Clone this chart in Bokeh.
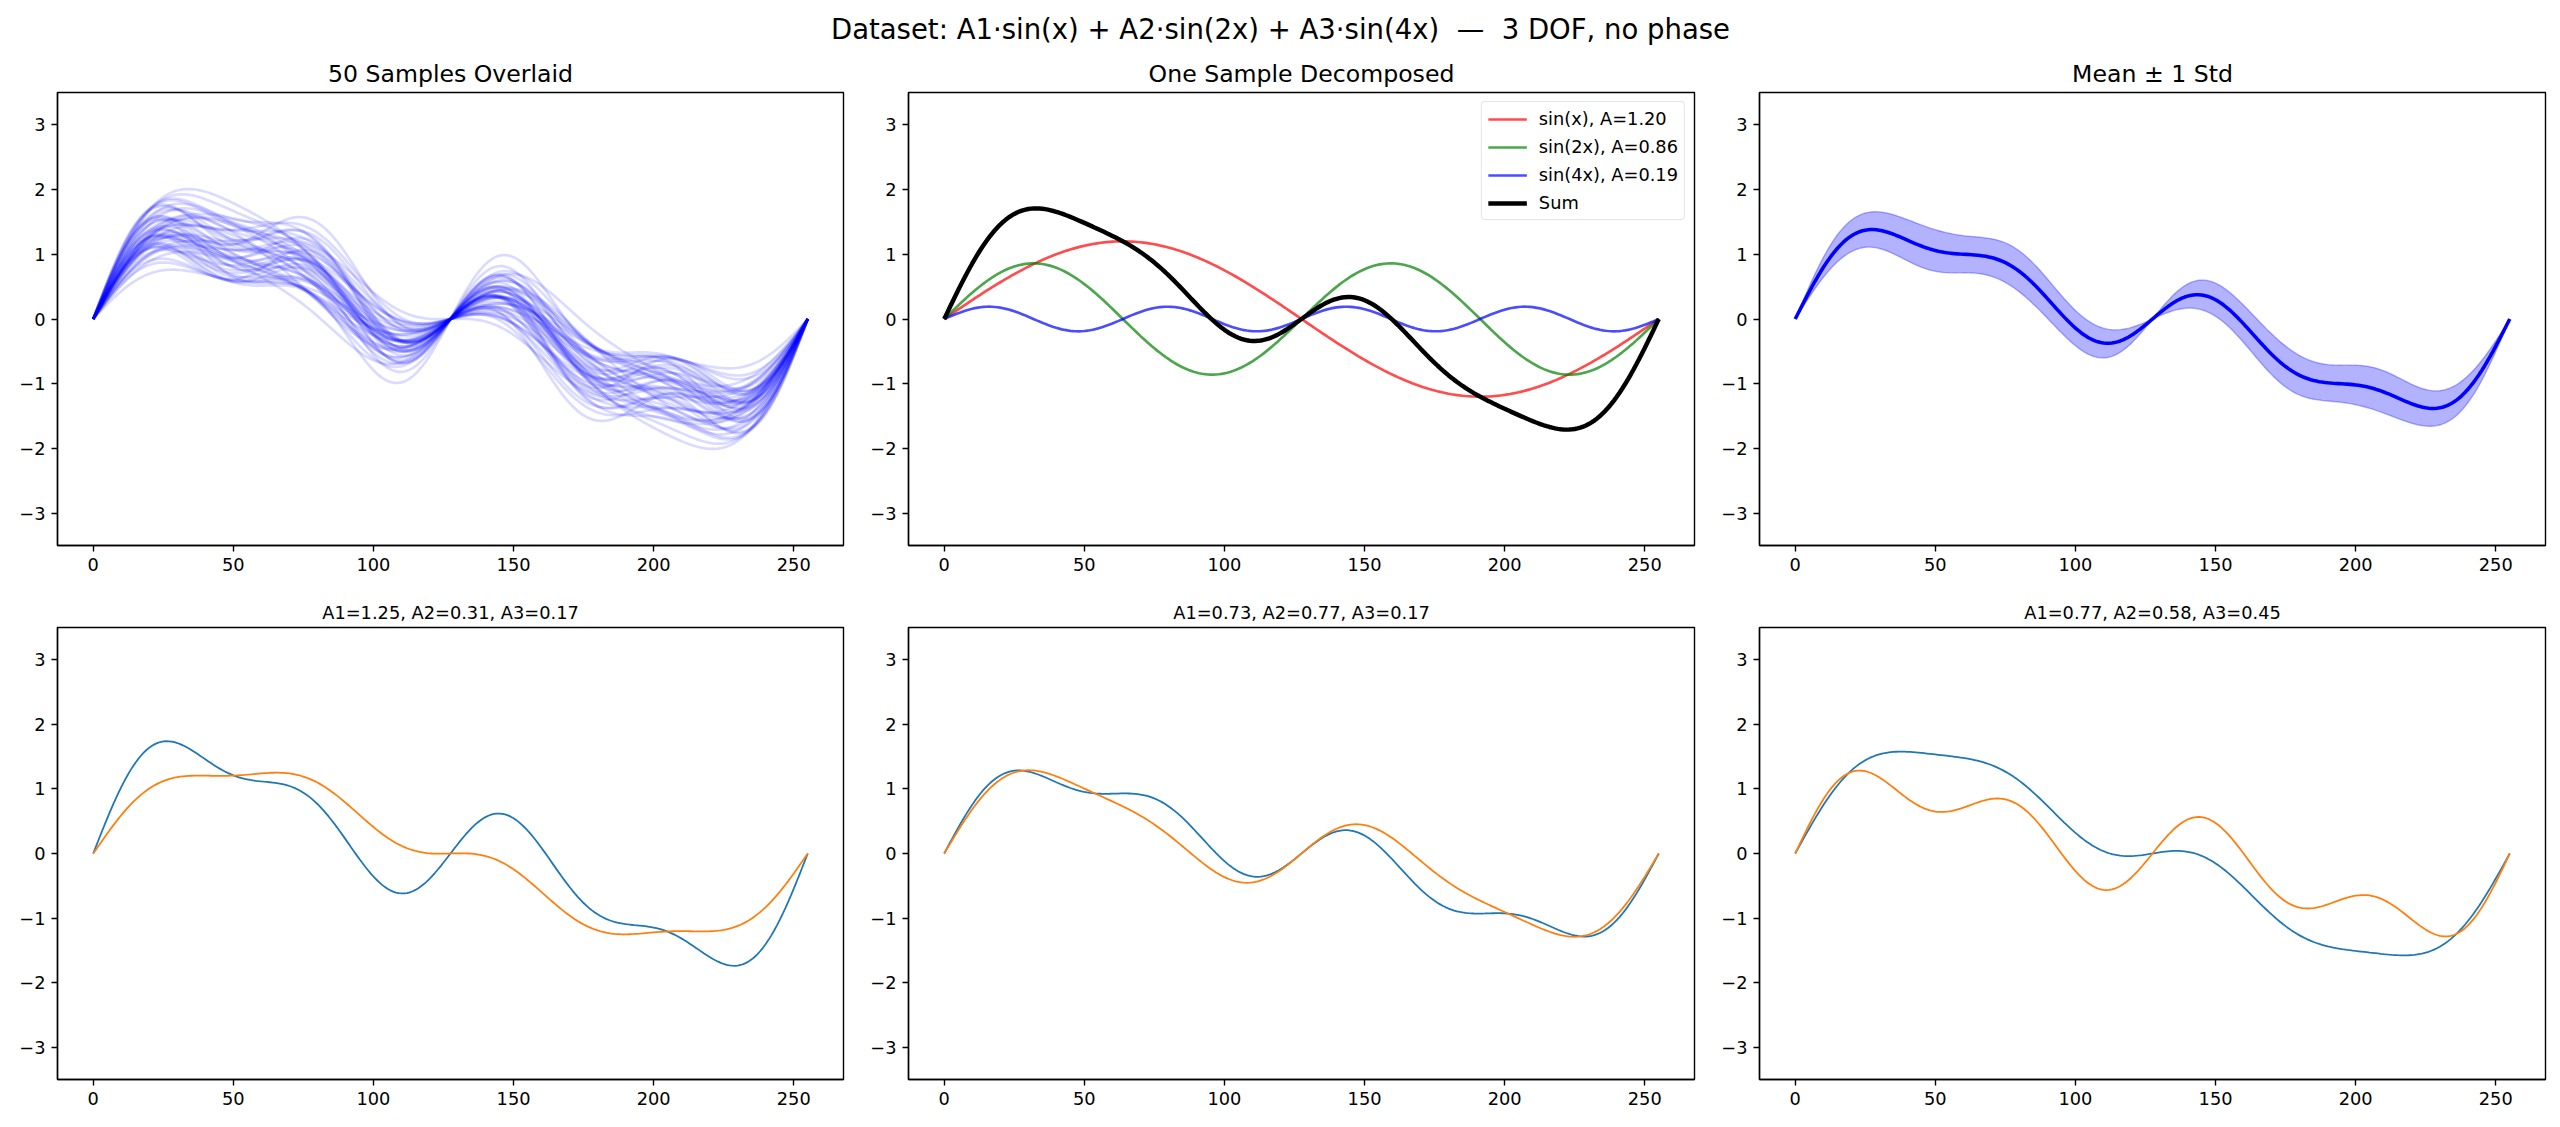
import numpy as np
from bokeh.plotting import figure
from bokeh.layouts import column, row
from bokeh.models import Range1d, FixedTicker, Label, Legend, LegendItem
from bokeh.embed import file_html
from bokeh.resources import INLINE

# ---------------------------------------------------------------- data
N_POINTS = 256
HARMONICS = [1, 2, 4]

X_TICKS = [0, 50, 100, 150, 200, 250]
Y_TICKS = [-3, -2, -1, 0, 1, 2, 3]
Y_TICK_LABELS = ["\u22123", "\u22122", "\u22121", "0", "1", "2", "3"]

# amplitudes of the 50 drawn samples (A1, A2, A3)
A1_SAMPLES = [1.20, 1.25, 0.73, 0.77, 0.52, 1.47, 0.91, 1.08, 0.63, 1.33,
              0.86, 1.12, 0.56, 1.39, 0.97, 1.04, 0.69, 1.29, 0.81, 1.43,
              0.55, 1.16, 0.94, 1.01, 0.66, 1.36, 0.88, 1.22, 0.75, 1.49,
              0.60, 1.10, 0.83, 1.31, 0.99, 0.71, 1.18, 0.57, 1.41, 0.90,
              1.06, 0.79, 1.27, 0.64, 1.14, 0.95, 1.46, 0.85, 1.02, 0.68]
A2_SAMPLES = [0.86, 0.31, 0.77, 0.58, 0.64, 0.42, 0.95, 0.53, 0.38, 0.71,
              0.47, 0.99, 0.96, 0.61, 0.34, 0.74, 0.55, 0.90, 0.66, 0.36,
              0.92, 0.45, 0.80, 0.59, 0.70, 0.50, 0.33, 0.68, 0.97, 0.79,
              0.44, 0.88, 0.62, 0.40, 0.73, 0.51, 0.84, 0.35, 0.93, 0.57,
              0.39, 0.86, 0.65, 0.76, 0.48, 1.00, 0.97, 0.43, 0.81, 0.63]
A3_SAMPLES = [0.19, 0.17, 0.17, 0.45, 0.33, 0.28, 0.12, 0.41, 0.24, 0.49,
              0.36, 0.22, 0.49, 0.14, 0.30, 0.38, 0.11, 0.35, 0.26, 0.43,
              0.20, 0.32, 0.46, 0.16, 0.39, 0.23, 0.44, 0.13, 0.31, 0.37,
              0.27, 0.48, 0.21, 0.34, 0.10, 0.42, 0.29, 0.15, 0.25, 0.40,
              0.18, 0.50, 0.12, 0.28, 0.45, 0.33, 0.20, 0.37, 0.24, 0.14]

# sample shown split into its components
DECOMP_AMPS = [1.20, 0.86, 0.19]
DECOMP_NAMES = ["sin(x)", "sin(2x)", "sin(4x)"]
DECOMP_COLORS = ["red", "green", "blue"]

# bottom row: target amplitudes (orange, in the titles) and model output (blue)
TARGET_AMPS = [[1.25, 0.31, 0.17], [0.73, 0.77, 0.17], [0.77, 0.58, 0.45]]
OUTPUT_AMPS = [[1.10, 0.90, 0.40], [0.93, 0.59, 0.30], [1.45, 0.53, 0.17]]

SUPTITLE = "Dataset: A1\u00b7sin(x) + A2\u00b7sin(2x) + A3\u00b7sin(4x) \u00a0\u2014\u00a0 3 DOF, no phase"
TOP_TITLES = ["50 Samples Overlaid", "One Sample Decomposed", "Mean \u00b1 1 Std"]

# ---------------------------------------------------------------- helpers
x = np.arange(N_POINTS)
t = np.linspace(0.0, 2.0 * np.pi, N_POINTS)


def component(amp, k):
    return amp * np.sin(k * t)


def signal(amps):
    return sum(component(a, k) for a, k in zip(amps, HARMONICS))


FONT = "DejaVu Sans"
FRAME_W = 786
LINE_PX = 1.78  # one point at 128 dpi


def make_panel(title, title_size, frame_h, top, bottom):
    p = figure(frame_width=FRAME_W, frame_height=frame_h,
               min_border_left=57, min_border_right=8,
               min_border_top=top, min_border_bottom=bottom,
               x_range=Range1d(-12.75, 267.75), y_range=Range1d(-3.5, 3.5),
               toolbar_location=None, tools="", output_backend="svg",
               title=title)
    p.title.align = "center"
    p.title.text_font = FONT
    p.title.text_font_size = title_size
    p.title.text_font_style = "normal"
    p.title.text_color = "black"
    p.grid.visible = False
    p.outline_line_color = "black"
    p.outline_line_width = 1.4
    p.outline_line_alpha = 1.0
    p.background_fill_color = "white"
    p.border_fill_color = "white"
    p.xaxis.ticker = FixedTicker(ticks=X_TICKS)
    p.yaxis.ticker = FixedTicker(ticks=Y_TICKS)
    p.yaxis.major_label_overrides = {v: s for v, s in zip(Y_TICKS, Y_TICK_LABELS)}
    for ax in (p.xaxis, p.yaxis):
        ax.axis_line_color = "black"
        ax.axis_line_width = 1.4
        ax.major_tick_line_color = "black"
        ax.major_tick_line_width = 1.4
        ax.major_tick_out = 6
        ax.major_tick_in = 0
        ax.minor_tick_line_color = None
        ax.major_label_text_font = FONT
        ax.major_label_text_font_size = "17.8px"
        ax.major_label_text_color = "black"
        ax.major_label_standoff = 6
    return p


# ---------------------------------------------------------------- header
HEADER_W, HEADER_H = 2560, 48
header = figure(frame_width=HEADER_W, frame_height=HEADER_H,
                x_range=Range1d(0, HEADER_W), y_range=Range1d(0, HEADER_H),
                min_border=0, toolbar_location=None, tools="", output_backend="svg",
                x_axis_location=None, y_axis_location=None)
header.outline_line_color = None
header.grid.visible = False
header.add_layout(Label(x=HEADER_W / 2, y=HEADER_H - 28.5,
                        text=SUPTITLE, text_align="center", text_baseline="middle",
                        text_font=FONT, text_font_size="27.5px", text_color="black"))

# ---------------------------------------------------------------- top row
TOP_H, TOP_T, TOP_B = 453, 44, 40
BOT_H, BOT_T, BOT_B = 452, 42, 48

samples = [signal(a) for a in zip(A1_SAMPLES, A2_SAMPLES, A3_SAMPLES)]

p1 = make_panel(TOP_TITLES[0], "23.6px", TOP_H, TOP_T, TOP_B)
p1.multi_line([x] * len(samples), samples, line_color="blue",
              line_alpha=0.14, line_width=1.5 * LINE_PX)

p2 = make_panel(TOP_TITLES[1], "23.6px", TOP_H, TOP_T, TOP_B)
items = []
for amp, k, name, col in zip(DECOMP_AMPS, HARMONICS, DECOMP_NAMES, DECOMP_COLORS):
    r = p2.line(x, component(amp, k), line_color=col, line_alpha=0.7,
                line_width=1.5 * LINE_PX)
    items.append(LegendItem(label=f"{name}, A={amp:.2f}", renderers=[r]))
r_sum = p2.line(x, signal(DECOMP_AMPS), line_color="black", line_width=2.5 * LINE_PX)
items.append(LegendItem(label="Sum", renderers=[r_sum]))
legend = Legend(items=items, location="top_right", margin=9, padding=6,
                spacing=7, glyph_width=39, glyph_height=20, label_height=20,
                label_standoff=12, label_text_font=FONT,
                label_text_font_size="17.8px", label_text_color="black",
                border_line_color="#cccccc", border_line_width=1.4,
                background_fill_color="white", background_fill_alpha=0.8)
if "border_radius" in Legend.properties():
    legend.border_radius = 4
p2.add_layout(legend)

p3 = make_panel(TOP_TITLES[2], "23.6px", TOP_H, TOP_T, TOP_B)
stack = np.array(samples)
mean = stack.mean(axis=0)
std = stack.std(axis=0)
p3.varea(x=x, y1=mean - std, y2=mean + std, fill_color="blue", fill_alpha=0.3)
p3.line(x, mean - std, line_color="blue", line_alpha=0.3, line_width=1.4)
p3.line(x, mean + std, line_color="blue", line_alpha=0.3, line_width=1.4)
p3.line(x, mean, line_color="blue", line_width=2 * LINE_PX)

# ---------------------------------------------------------------- bottom row
bottom = []
for tgt, out in zip(TARGET_AMPS, OUTPUT_AMPS):
    title = f"A1={tgt[0]:.2f}, A2={tgt[1]:.2f}, A3={tgt[2]:.2f}"
    p = make_panel(title, "17.8px", BOT_H, BOT_T, BOT_B)
    p.line(x, signal(out), line_color="#1f77b4", line_width=LINE_PX)
    p.line(x, signal(tgt), line_color="#ff7f0e", line_width=LINE_PX)
    bottom.append(p)

layout = column(header, row(p1, p2, p3), row(*bottom))

open("out.html", "w").write(file_html(layout, INLINE))
